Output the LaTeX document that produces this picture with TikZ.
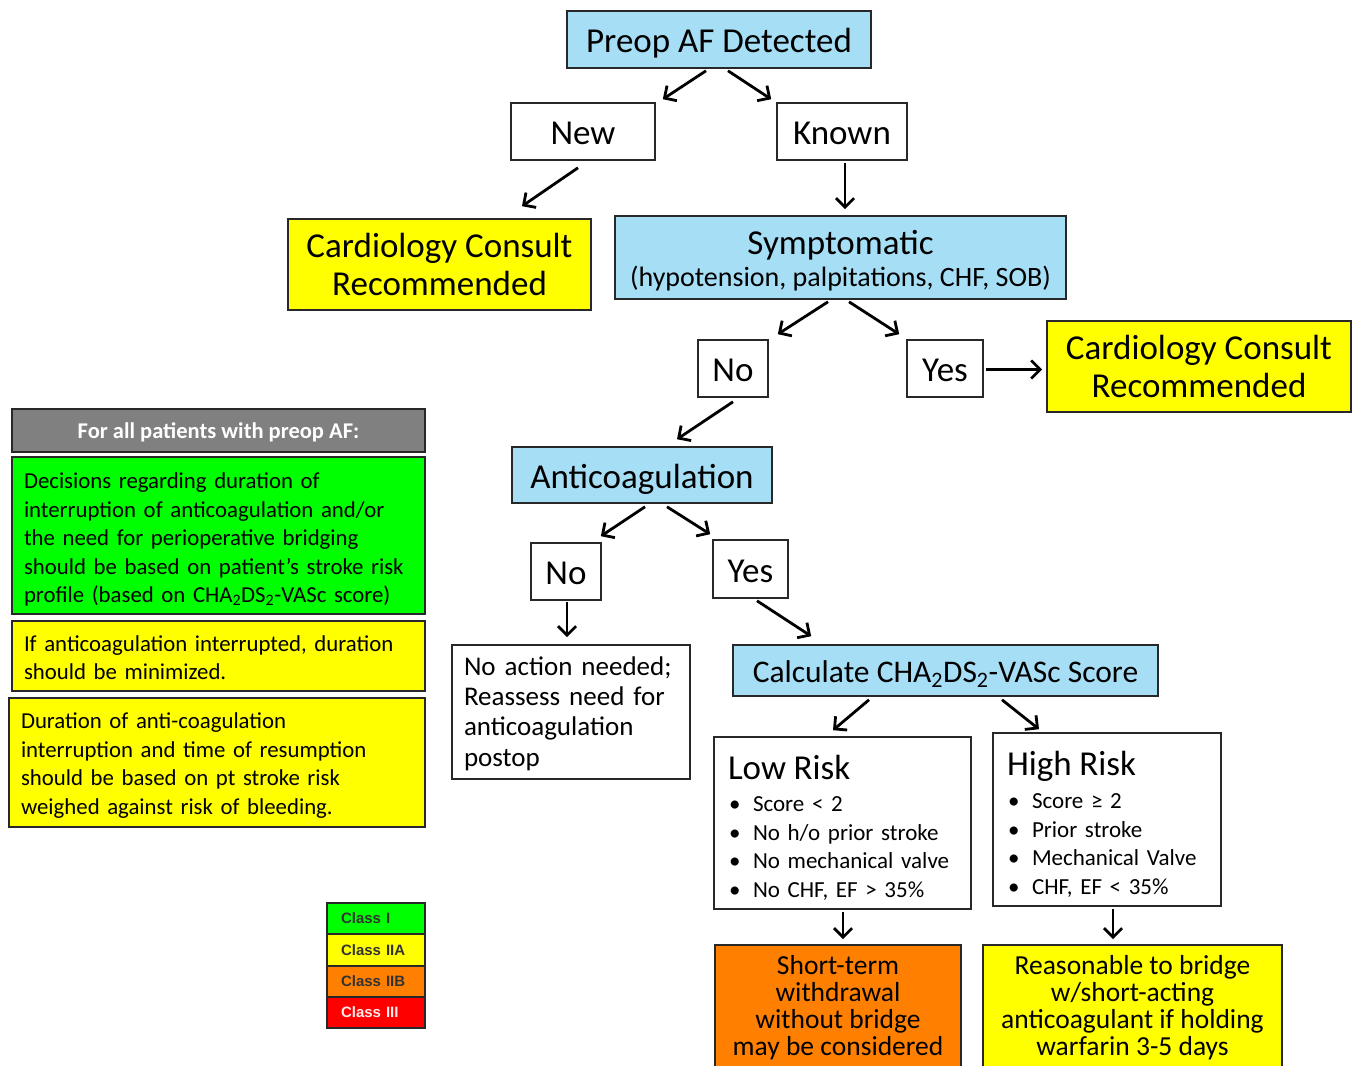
\documentclass[tikz,border=0pt]{standalone}
\usepackage{fontspec}
\setmainfont{Carlito}
\newfontfamily\legfont{Liberation Sans}
\usetikzlibrary{arrows.meta,calc}
\definecolor{lblue}{RGB}{166,222,246}
\definecolor{yel}{RGB}{255,255,0}
\definecolor{grn}{RGB}{0,255,0}
\definecolor{org}{RGB}{255,128,0}
\definecolor{gry}{RGB}{128,128,128}
\definecolor{rd}{RGB}{255,0,0}
\definecolor{bord}{RGB}{40,40,40}
\newcommand{\fsz}[2]{\fontsize{#1}{#2}\selectfont}
\newcommand{\bl}[1]{\makebox[25pt][l]{\hspace{1pt}\textbullet}#1}
\tikzset{
  box/.style={draw=bord, line width=1.6pt, inner sep=0pt, align=center, text=black},
  big/.style={font=\fsz{35}{38}},
  one/.style={big, text height=28pt, text depth=2pt},
  lbox/.style={box, align=left, inner xsep=12pt, font=\fsz{22.8}{28.5}},
  legc/.style={draw=bord, line width=1.2pt, minimum width=98pt, minimum height=31pt, inner sep=0pt, text width=70pt, align=left, font=\legfont\bfseries\fsz{15}{17}, text=black!80},
  arr/.style={line width=2.8pt, -{Straight Barb[length=9pt,width=18pt,line width=2.8pt]}}
}
\begin{document}
\begin{tikzpicture}[x=1pt,y=-1pt]
\path[use as bounding box, fill=white] (0,0) rectangle (1359,1065);

\node[box,one,fill=lblue,minimum width=304pt,minimum height=57pt] (preop) at (719,39.5) {Preop AF Detected};
\node[box,one,fill=white,minimum width=144pt,minimum height=57pt] (new) at (583,131.5) {New};
\node[box,one,fill=white,minimum width=130pt,minimum height=57pt] (known) at (842,131.5) {Known};
\node[box,big,fill=yel,minimum width=303pt,minimum height=91pt] (cardL) at (439.5,264.5) {Cardiology Consult\\Recommended};
\node[box,fill=lblue,minimum width=451pt,minimum height=83pt,font=\fsz{28}{34}] (sympt) at (840.5,257.5) {{\fsz{35}{34}\rule{0pt}{31pt}Symptomatic}\\[-2pt](hypotension, palpitations, CHF, SOB)};
\node[box,one,fill=white,minimum width=70pt,minimum height=57pt] (no1) at (733,368.5) {No};
\node[box,one,fill=white,minimum width=76pt,minimum height=57pt] (yes1) at (945,368.5) {Yes};
\node[box,big,fill=yel,minimum width=304pt,minimum height=91pt] (cardR) at (1199,366.5) {Cardiology Consult\\Recommended};
\node[box,one,fill=lblue,minimum width=260pt,minimum height=56pt] (anti) at (642,475) {Anticoagulation};
\node[box,one,fill=white,minimum width=70pt,minimum height=57pt] (no2) at (566,571.5) {No};
\node[box,one,fill=white,minimum width=75pt,minimum height=58pt] (yes2) at (750.5,569) {Yes};
\node[box,fill=white,minimum width=238pt,minimum height=134pt,align=left,text width=214pt,font=\fsz{27}{30.3}] (noact) at (571,712) {\rule{0pt}{22pt}No action needed;\\Reassess need for\\anticoagulation\\postop};
\node[box,fill=lblue,minimum width=425pt,minimum height=51pt,font=\fsz{31.5}{34},text height=25pt,text depth=2pt] (calc) at (945.5,670.5) {Calculate CHA\textsubscript{2}DS\textsubscript{2}-VASc Score};
\node[box,fill=white,minimum width=257pt,minimum height=172pt,align=left,text width=229pt,font=\fsz{23}{28.6}] (low) at (842.5,823) {{\fsz{35}{36}\rule{0pt}{34pt}Low Risk}\\[3pt]\bl{Score < 2}\\\bl{No h/o prior stroke}\\\bl{No mechanical valve}\\\bl{No CHF, EF > 35\%}};
\node[box,fill=white,minimum width=228pt,minimum height=173pt,align=left,text width=200pt,font=\fsz{23}{28.6}] (high) at (1107,819.5) {{\fsz{35}{36}\rule{0pt}{34pt}High Risk}\\[4pt]\bl{Score ≥ 2}\\\bl{Prior stroke}\\\bl{Mechanical Valve}\\\bl{CHF, EF < 35\%}};
\node[box,fill=org,minimum width=246pt,minimum height=126pt,font=\fsz{27.5}{27}] (short) at (838,1008) {Short-term\\withdrawal\\without bridge\\may be considered};
\node[box,fill=yel,minimum width=299pt,minimum height=126pt,font=\fsz{27.5}{27}] (reas) at (1132.5,1008) {Reasonable to bridge\\w/short-acting\\anticoagulant if holding\\warfarin 3-5 days};

\node[box,fill=gry,minimum width=413pt,minimum height=43pt,text=white,font=\bfseries\fsz{22.5}{24},text height=17pt,text depth=1.5pt] (gray) at (218.5,430.5) {For all patients with preop AF:};
\node[lbox,fill=grn,minimum width=413pt,minimum height=157pt,text width=389pt] (green) at (218.5,535.5) {\rule{0pt}{24pt}Decisions regarding duration of\\interruption of anticoagulation and/or\\the need for perioperative bridging\\should be based on patient’s stroke risk\\profile (based on CHA\textsubscript{2}DS\textsubscript{2}-VASc score)};
\node[lbox,fill=yel,minimum width=413pt,minimum height=70pt,text width=389pt] (y1) at (218.5,656) {\rule{0pt}{19pt}If anticoagulation interrupted, duration\\should be minimized.};
\node[lbox,fill=yel,minimum width=416pt,minimum height=129pt,text width=392pt] (y2) at (217,762.5) {\rule{0pt}{22pt}Duration of anti-coagulation\\interruption and time of resumption\\should be based on pt stroke risk\\weighed against risk of bleeding.};

\node[legc,fill=grn] (c1) at (376,918.5) {Class I};
\node[legc,fill=yel] (c2) at (376,950) {Class IIA};
\node[legc,fill=org] (c3) at (376,981.5) {Class IIB};
\node[legc,fill=rd,text=white!92!red] (c4) at (376,1012.5) {Class III};

\draw[arr] ($(preop.south)+(-13,2)$) -- ($(new.north east)+(7,-3)$);
\draw[arr] ($(preop.south)+(9,2)$) -- ($(known.north west)+(-5,-3)$);
\draw[arr] ($(new.south)+(-5,7)$) -- ($(cardL.north)+(82.5,-12)$);
\draw[arr] ($(known.south)+(3,2)$) -- ($(sympt.north)+(4.5,-6)$);
\draw[arr] ($(sympt.south)+(-12.5,2)$) -- ($(no1.north east)+(9,-5)$);
\draw[arr] ($(sympt.south)+(8.5,2)$) -- ($(yes1.north west)+(-7,-5)$);
\draw[arr] ($(yes1.east)+(2,1)$) -- ($(cardR.west)+(-4,3)$);
\draw[arr] ($(no1.south)+(0,4)$) -- ($(anti.north)+(35,-7)$);
\draw[arr] ($(anti.south)+(3,3)$) -- ($(no2.north east)+(-1,-6)$);
\draw[arr] ($(anti.south)+(25,3)$) -- ($(yes2.north west)+(-2,-5)$);
\draw[arr] ($(no2.south)+(1,1)$) -- ($(noact.north)+(-4,-7)$);
\draw[arr] ($(yes2.south)+(6.5,2)$) -- ($(calc.north west)+(79,-8)$);
\draw[arr] ($(calc.south)+(-76.5,3)$) -- ($(low.north)+(-9.5,-6)$);
\draw[arr] ($(calc.south)+(56.5,3)$) -- ($(high.north)+(-68,-3)$);
\draw[arr] ($(low.south)+(0.5,2)$) -- ($(short.north)+(5,-5)$);
\draw[arr] ($(high.south)+(6,2)$) -- ($(reas.north)+(-19.5,-5)$);
\end{tikzpicture}
\end{document}
